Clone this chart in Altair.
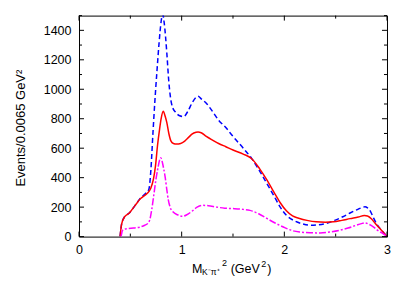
import altair as alt
import pandas as pd

# ---- data ----
blue_x = [0.40, 0.415, 0.445, 0.49, 0.545, 0.60, 0.65, 0.68, 0.70, 0.72, 0.74, 0.76, 0.78, 0.80, 0.815,
          0.83, 0.855, 0.875, 0.89, 0.91, 0.94, 0.98, 1.02, 1.06, 1.10, 1.14, 1.16, 1.19, 1.24, 1.30,
          1.36, 1.43, 1.50, 1.60, 1.68, 1.76, 1.83, 1.90, 1.96, 2.02, 2.09, 2.17, 2.25, 2.33, 2.41,
          2.49, 2.57, 2.64, 2.70, 2.75, 2.785, 2.81, 2.84, 2.87, 2.90, 2.95, 2.995]
blue_y = [0, 85, 135, 160, 210, 262, 295, 320, 450, 700, 930, 1130, 1315, 1460, 1510,
          1450, 1250, 1050, 950, 880, 845, 820, 815, 850, 905, 945, 952, 935, 905, 850,
          790, 740, 680, 600, 532, 445, 360, 275, 200, 145, 110, 88, 77, 80, 90,
          110, 135, 160, 180, 195, 202, 195, 170, 125, 85, 40, 5]

red_x = [0.40, 0.415, 0.445, 0.49, 0.545, 0.60, 0.65, 0.68, 0.70, 0.725, 0.745, 0.765, 0.785, 0.80, 0.82,
         0.84, 0.855, 0.875, 0.895, 0.92, 0.95, 0.99, 1.03, 1.07, 1.10, 1.14, 1.16, 1.19, 1.24, 1.30,
         1.36, 1.43, 1.50, 1.60, 1.68, 1.76, 1.83, 1.90, 1.96, 2.02, 2.08, 2.14, 2.22, 2.31, 2.40,
         2.48, 2.56, 2.64, 2.72, 2.78, 2.81, 2.85, 2.89, 2.93, 2.97, 2.995]
red_y = [0, 85, 135, 160, 210, 258, 285, 305, 330, 390, 480, 620, 730, 800, 850,
         815, 775, 700, 650, 632, 628, 632, 648, 675, 695, 708, 710, 705, 680, 655,
         632, 610, 588, 560, 530, 460, 385, 300, 230, 175, 140, 125, 110, 100, 98,
         100, 110, 122, 133, 143, 140, 120, 85, 55, 25, 5]

mag_x = [0.41, 0.425, 0.45, 0.48, 0.53, 0.59, 0.64, 0.67, 0.69, 0.71, 0.73, 0.75, 0.77, 0.785, 0.795,
         0.81, 0.825, 0.84, 0.855, 0.87, 0.89, 0.92, 0.96, 1.01, 1.05, 1.10, 1.15, 1.20, 1.26, 1.34,
         1.42, 1.50, 1.58, 1.665, 1.75, 1.83, 1.91, 1.99, 2.07, 2.15, 2.25, 2.35, 2.45, 2.54, 2.62,
         2.70, 2.75, 2.785, 2.82, 2.87, 2.91, 2.95, 2.995]
mag_y = [0, 43, 52, 55, 58, 64, 77, 90, 115, 190, 290, 390, 470, 520, 536,
         510, 460, 400, 320, 250, 195, 165, 148, 138, 148, 172, 200, 212, 210, 200,
         193, 190, 186, 178, 155, 123, 92, 65, 42, 31, 26, 25, 32, 43, 58,
         77, 88, 93, 85, 65, 42, 25, 5]

x_major = [0, 1, 2, 3]
x_minor = [0.5, 1.5, 2.5]
y_major = [0, 200, 400, 600, 800, 1000, 1200, 1400]
y_minor = [100, 300, 500, 700, 900, 1100, 1300, 1500]

W, H = 308, 221
FONT = "Liberation Sans"

xsc = alt.Scale(domain=[0, 3], nice=False, zero=False)
ysc = alt.Scale(domain=[0, 1500], nice=False)
xaxis = alt.Axis(values=x_major, format="d", title=None, labelPadding=7,
                 labelFlush=False, labelOverlap=False)
yaxis = alt.Axis(values=y_major, format="d", title=None, labelPadding=8,
                 labelFlush=False, labelOverlap=False)


def X(field):
    return alt.X(field, scale=xsc, axis=xaxis)


def Y(field):
    return alt.Y(field, scale=ysc, axis=yaxis)


def curve(xs, ys, color, dash=None):
    df = pd.DataFrame({"x": xs, "y": ys})
    kw = dict(color=color, strokeWidth=1.5, interpolate="monotone", clip=True)
    if dash:
        kw["strokeDash"] = dash
    return alt.Chart(df).mark_line(**kw).encode(x=X("x:Q"), y=Y("y:Q"))


def xticks(vals, length):
    df = pd.DataFrame({"x": vals})
    bottom = alt.Chart(df).mark_rule(color="black", strokeWidth=1).encode(
        x=X("x:Q"), y=alt.value(H), y2=alt.value(H - length))
    top = alt.Chart(df).mark_rule(color="black", strokeWidth=1).encode(
        x=X("x:Q"), y=alt.value(0), y2=alt.value(length))
    return [bottom, top]


def yticks(vals, length):
    df = pd.DataFrame({"y": vals})
    left = alt.Chart(df).mark_rule(color="black", strokeWidth=1).encode(
        y=Y("y:Q"), x=alt.value(0), x2=alt.value(length))
    right = alt.Chart(df).mark_rule(color="black", strokeWidth=1).encode(
        y=Y("y:Q"), x=alt.value(W), x2=alt.value(W - length))
    return [left, right]


def txt(s, x, y, size, angle=0):
    kw = dict(text=s, font=FONT, fontSize=size, color="black", align="left",
              baseline="alphabetic")
    if angle:
        kw["angle"] = angle
    return alt.Chart(pd.DataFrame({"a": [0]})).mark_text(**kw).encode(
        x=alt.value(x), y=alt.value(y))


layers = [
    curve(blue_x, blue_y, "#0000ff", dash=[5, 3]),
    curve(red_x, red_y, "#ff0000"),
    curve(mag_x, mag_y, "#ff00ff", dash=[7, 2, 2, 2]),
]
layers += xticks(x_major, 5) + xticks(x_minor, 3)
layers += yticks(y_major, 5) + yticks(y_minor, 3)

# x-axis title: M_{K^-pi^+}^2 (GeV^2)
layers += [
    txt("M", 113, 257.5, 12.5),
    txt("K⁻π⁺", 123, 259.2, 8.5),
    txt("2", 143, 250.7, 9),
    txt("(GeV", 151.7, 257.5, 12.5),
    txt("2", 182.3, 251.2, 9),
    txt(")", 188.3, 257.5, 12.5),
]
# y-axis title: Events/0.0065 GeV^2
layers += [
    txt("Events/0.0065 GeV²", -54, 171, 13, angle=270),
]

chart = alt.layer(*layers).properties(
    width=W, height=H,
    autosize=alt.AutoSizeParams(type="none"),
    padding={"left": 71, "top": 7.6, "right": 12, "bottom": 50},
).configure_view(stroke="black", strokeWidth=1).configure_axis(
    labelFont=FONT, labelFontSize=12.5, labelColor="black",
    grid=False, domain=False, ticks=False,
)

chart.save("out.html", embed_options={"renderer": "svg", "actions": False})
